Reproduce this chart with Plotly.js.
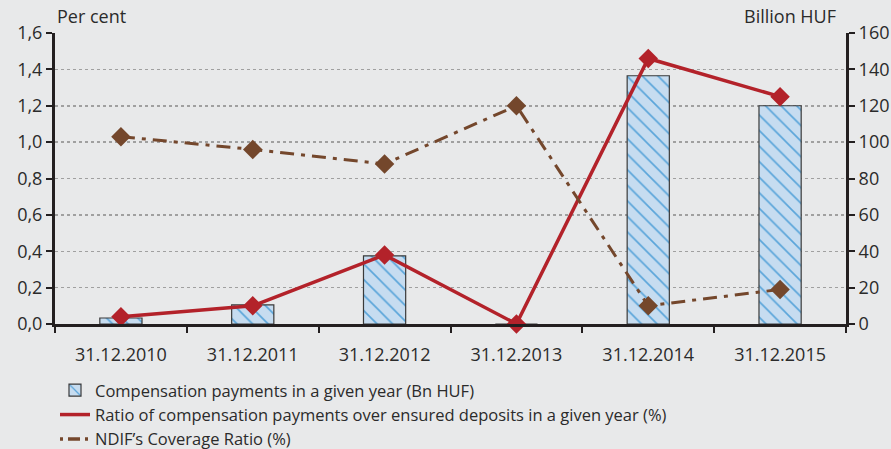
<!DOCTYPE html>
<html><head><meta charset="utf-8">
<script src="https://cdn.plot.ly/plotly-3.0.1.min.js"></script>
<style>html,body{margin:0;padding:0;background:#e8e9ea;}#chart{width:891px;height:449px;}</style>
</head><body><div id="chart"></div>
<script>
var categories = ["31.12.2010","31.12.2011","31.12.2012","31.12.2013","31.12.2014","31.12.2015"];
var compensationBn = [3.3, 10.5, 37.5, 0, 136.5, 120];
var ratioPct = [0.04, 0.10, 0.38, 0.0, 1.46, 1.25];
var coveragePct = [1.03, 0.96, 0.88, 1.20, 0.10, 0.19];
var seriesNames = ["Compensation payments in a given year (Bn HUF)",
  "Ratio of compensation payments over ensured deposits in a given year (%)",
  "NDIF\u2019s Coverage Ratio (%)"];

var font = "'Open Sans', Lato, sans-serif";
var red = "#b3222a", brown = "#74472c";
var dashDot = "14px,7px,4px,7px";
var traces = [
  {type:"bar", x:categories, y:compensationBn, yaxis:"y", name:seriesNames[0], width:0.32, legendrank:1,
   marker:{color:"#c6dcf0", line:{color:"#3a3a3a", width:1.2},
           pattern:{shape:"\\", fgcolor:"#5aa5da", bgcolor:"#c6dcf0", size:11, solidity:0.15}}},
  {type:"scatter", mode:"lines+markers", x:categories, y:ratioPct, yaxis:"y2", name:seriesNames[1], showlegend:false, cliponaxis:false,
   line:{color:red, width:3.5}, marker:{symbol:"diamond", size:15, color:red}},
  {type:"scatter", mode:"lines+markers", x:categories, y:coveragePct, yaxis:"y2", name:seriesNames[2], showlegend:false, cliponaxis:false,
   line:{color:brown, width:3, dash:dashDot}, marker:{symbol:"diamond", size:15, color:brown}},
  {type:"scatter", mode:"lines", x:[categories[0]], y:[null], yaxis:"y2", name:seriesNames[1], legendrank:2,
   line:{color:red, width:3.5}},
  {type:"scatter", mode:"lines", x:[categories[0]], y:[null], yaxis:"y2", name:seriesNames[2], legendrank:3,
   line:{color:brown, width:3.5, dash:"3px,5px,12px,5px"}}
];
var axLine = {showline:true, linecolor:"#231f20", linewidth:3, ticks:"outside", ticklen:6, tickwidth:2, tickcolor:"#231f20", zeroline:false, tickfont:{size:18}};
var layout = {
  width:891, height:449, separators:",.",
  paper_bgcolor:"#e8e9ea", plot_bgcolor:"#e8e9ea",
  margin:{l:55, r:45, t:33, b:125, autoexpand:false},
  font:{family:font, size:18, color:"#2b2b2b"},
  showlegend:true,
  legend:{x:0.0, xanchor:"left", y:-0.168, yanchor:"top", orientation:"v",
          bgcolor:"rgba(0,0,0,0)", font:{size:16.5, color:"#2b2b2b"}, tracegroupgap:0, itemwidth:30, traceorder:"normal"},
  xaxis:Object.assign({}, axLine, {type:"category", tickson:"boundaries", showgrid:false, ticklabelstandoff:12}),
  yaxis:Object.assign({}, axLine, {range:[0,160], dtick:20, side:"right",
         showgrid:true, gridcolor:"#a0a0a0", griddash:"dot", gridwidth:1.5}),
  yaxis2:Object.assign({}, axLine, {range:[0,1.6], dtick:0.2, tickformat:".1f", overlaying:"y", side:"left", showgrid:false}),
  annotations:[
    {text:"Per cent", xref:"paper", yref:"paper", x:0.0, y:1.0, xanchor:"left", yanchor:"bottom", yshift:3, showarrow:false, font:{size:18}},
    {text:"Billion HUF", xref:"paper", yref:"paper", x:0.99, y:1.0, xanchor:"right", yanchor:"bottom", yshift:3, showarrow:false, font:{size:18}}
  ]
};
Plotly.newPlot("chart", traces, layout, {displayModeBar:false, staticPlot:true});
</script></body></html>
